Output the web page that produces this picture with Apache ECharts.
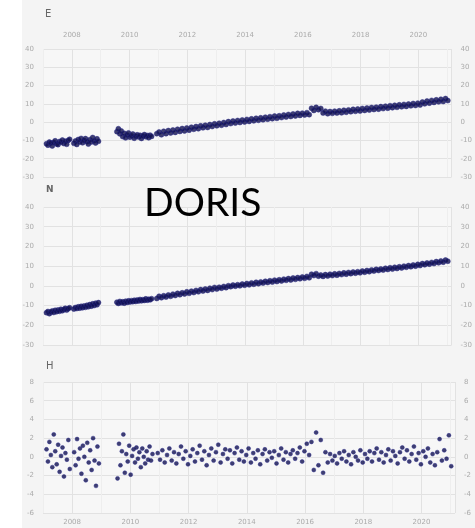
<!DOCTYPE html>
<html>
<head>
<meta charset="utf-8">
<script src="https://cdn.jsdelivr.net/npm/echarts@6/dist/echarts.min.js"></script>
<style>
  html, body { margin: 0; padding: 0; background: #ffffff; }
  #chart { width: 475px; height: 528px; }
</style>
</head>
<body>
<div id="chart"></div>
<script>
// DORIS station coordinate time series (mm), decimal-year epochs
const epochs = [
  2007.12, 2007.17, 2007.22, 2007.27, 2007.32, 2007.37, 2007.42, 2007.47, 2007.52, 2007.57,
  2007.62, 2007.67, 2007.72, 2007.77, 2007.82, 2007.87, 2007.92,
  2008.07, 2008.12, 2008.17, 2008.22, 2008.27, 2008.32, 2008.37, 2008.42, 2008.47,
  2008.52, 2008.57, 2008.62, 2008.67, 2008.72, 2008.77, 2008.82, 2008.87, 2008.92,
  2009.56, 2009.61, 2009.66, 2009.71, 2009.76, 2009.81, 2009.86, 2009.91, 2009.96,
  2010.01, 2010.06, 2010.11, 2010.16, 2010.21, 2010.26, 2010.31, 2010.36, 2010.41,
  2010.46, 2010.51, 2010.56, 2010.61, 2010.66, 2010.71, 2010.76,
  2010.94,
  2011.02, 2011.10, 2011.18, 2011.26, 2011.34, 2011.42, 2011.50, 2011.58, 2011.66, 2011.74, 2011.82, 2011.90, 2011.98,
  2012.06, 2012.14, 2012.22, 2012.30, 2012.38, 2012.46, 2012.54, 2012.62, 2012.70, 2012.78, 2012.86, 2012.94,
  2013.02, 2013.10, 2013.18, 2013.26, 2013.34, 2013.42, 2013.50, 2013.58, 2013.66, 2013.74, 2013.82, 2013.90, 2013.98,
  2014.06, 2014.14, 2014.22, 2014.30, 2014.38, 2014.46, 2014.54, 2014.62, 2014.70, 2014.78, 2014.86, 2014.94,
  2015.02, 2015.10, 2015.18, 2015.26, 2015.34, 2015.42, 2015.50, 2015.58, 2015.66, 2015.74, 2015.82, 2015.90, 2015.98,
  2016.06, 2016.14, 2016.22, 2016.30, 2016.38, 2016.46, 2016.54, 2016.62, 2016.70, 2016.78, 2016.86, 2016.94,
  2017.02, 2017.10, 2017.18, 2017.26, 2017.34, 2017.42, 2017.50, 2017.58, 2017.66, 2017.74, 2017.82, 2017.90, 2017.98,
  2018.06, 2018.14, 2018.22, 2018.30, 2018.38, 2018.46, 2018.54, 2018.62, 2018.70, 2018.78, 2018.86, 2018.94,
  2019.02, 2019.10, 2019.18, 2019.26, 2019.34, 2019.42, 2019.50, 2019.58, 2019.66, 2019.74, 2019.82, 2019.90, 2019.98,
  2020.06, 2020.14, 2020.22, 2020.30, 2020.38, 2020.46, 2020.54, 2020.62, 2020.70, 2020.78, 2020.86, 2020.94,
  2021.02
];

const east = [
  -11.8, -12.6, -10.9, -11.4, -13.0, -11.1, -10.2, -11.9, -12.3, -10.6,
  -11.0, -9.8, -11.7, -10.4, -12.1, -10.0, -9.4,
  -11.6, -10.3, -12.2, -9.5, -10.8, -8.9, -11.3, -10.1, -9.0,
  -10.7, -12.0, -9.6, -10.9, -8.4, -10.2, -11.4, -9.1, -10.5,
  -5.2, -3.6, -6.4, -4.8, -7.9, -6.1, -8.6, -7.0, -5.9,
  -8.2, -7.4, -6.5, -8.8, -7.7, -6.9, -8.1, -7.2, -8.9,
  -7.6, -6.8, -8.0, -7.3, -8.5, -7.1, -7.8,
  -6.3,
  -5.4, -6.9, -5.0, -6.3, -4.6, -5.9, -4.3, -5.6, -3.9, -5.1, -3.5, -4.8, -3.2,
  -4.4, -2.8, -3.9, -2.4, -3.6, -2.0, -3.1, -1.7, -2.9, -1.3, -2.4, -0.9,
  -2.0, -0.6, -1.7, -0.2, -1.3, 0.3, -0.8, 0.6, -0.5, 0.9, -0.2, 1.2, 0.1,
  1.5, 0.4, 1.8, 0.7, 2.1, 1.0, 2.4, 1.3, 2.7, 1.6, 3.0, 1.9,
  3.3, 2.1, 3.5, 2.5, 3.9, 2.8, 4.2, 3.1, 4.5, 3.4, 4.8, 3.7, 4.9,
  3.9, 5.2, 4.1, 7.6, 6.4, 8.1, 6.8, 7.5, 5.0, 6.0, 4.6, 5.8,
  4.8, 6.0, 5.0, 6.2, 5.1, 6.5, 5.4, 6.7, 5.7, 7.0, 5.9, 7.2, 6.1,
  7.5, 6.4, 7.7, 6.6, 8.0, 6.9, 8.2, 7.1, 8.5, 7.4, 8.7, 7.6,
  9.0, 7.9, 9.2, 8.1, 9.5, 8.4, 9.7, 8.6, 9.9, 8.9, 10.2, 9.1, 10.4,
  9.4, 11.0, 10.0, 11.5, 10.4, 11.9, 10.8, 12.2, 11.1, 12.5, 11.3, 12.9,
  11.8
];

const north = [
  -13.6, -13.0, -14.1, -13.2, -12.7, -13.5, -12.4, -13.1, -12.2, -12.9,
  -11.9, -12.6, -12.0, -11.4, -12.3, -11.6, -11.1,
  -11.8, -11.0, -11.5, -10.6, -11.3, -10.4, -11.1, -10.2, -10.9,
  -9.9, -10.6, -9.5, -10.3, -9.1, -10.0, -8.8, -9.6, -8.5,
  -8.3, -8.9, -7.9, -8.6, -8.1, -8.8, -7.8, -8.4, -7.6,
  -8.2, -7.5, -8.0, -7.3, -7.9, -7.2, -7.7, -6.9, -7.6,
  -7.0, -7.4, -6.6, -7.3, -6.8, -7.1, -6.5,
  -6.4,
  -5.3, -6.0, -5.0, -5.7, -4.6, -5.3, -4.2, -4.9, -3.8, -4.5, -3.5, -4.1, -3.0,
  -3.8, -2.7, -3.4, -2.3, -3.0, -1.9, -2.6, -1.6, -2.3, -1.2, -1.9, -0.8,
  -1.6, -0.7, -1.2, -0.3, -0.9, 0.1, -0.4, 0.4, -0.2, 0.6, 0.0, 0.9, 0.3,
  1.2, 0.5, 1.5, 0.8, 1.8, 1.1, 2.0, 1.4, 2.3, 1.7, 2.6, 1.9,
  2.9, 2.2, 3.1, 2.5, 3.4, 2.8, 3.7, 3.0, 4.0, 3.3, 4.2, 3.6, 4.5,
  3.8, 4.8, 4.1, 5.9, 5.2, 6.2, 4.9, 5.5, 4.8, 5.7, 5.0, 5.9,
  5.2, 6.1, 5.4, 6.3, 5.7, 6.6, 5.9, 6.8, 6.2, 7.0, 6.4, 7.2, 6.6,
  7.5, 6.9, 7.8, 7.2, 8.1, 7.5, 8.4, 7.8, 8.6, 8.0, 8.9, 8.3,
  9.2, 8.5, 9.4, 8.8, 9.7, 9.1, 10.0, 9.4, 10.3, 9.7, 10.6, 10.0, 10.9,
  10.3, 11.3, 10.7, 11.6, 11.0, 11.9, 11.3, 12.3, 11.7, 12.6, 12.0, 13.1,
  12.5
];

const up = [
  0.8, -0.5, 1.6, 0.2, -1.1, 2.4, 0.6, -0.8, 1.3, -1.6,
  0.1, 1.0, -2.1, 0.4, -0.3, 1.8, -1.3,
  0.5, -0.9, 1.9, -0.2, 0.9, -1.8, 1.2, 0.0, -2.5,
  1.5, -0.6, 0.7, -1.4, 2.0, -0.4, -3.1, 1.1, -0.7,
  -2.3, 1.4, -0.9, 0.6, 2.4, -1.7, 0.3, -0.5, 1.2,
  -1.9, 0.1, 0.8, -0.6, 1.0, -0.2, 0.5, -1.1, 0.9,
  0.0, -0.7, 0.6, -0.3, 1.1, -0.4, 0.3,
  0.4,
  -0.3, 0.7, -0.6, 0.2, 0.9, -0.4, 0.5, -0.7, 0.3, 1.1, -0.2, 0.6, -0.8,
  0.1, 0.8, -0.5, 0.4, 1.2, -0.3, 0.6, -0.9, 0.2, 0.9, -0.4, 0.5,
  1.3, -0.6, 0.3, 0.8, -0.2, 0.7, -0.7, 0.4, 1.0, -0.3, 0.6, -0.5, 0.2,
  0.9, -0.6, 0.4, -0.2, 0.7, -0.8, 0.3, 0.8, -0.4, 0.5, -0.1, 0.6,
  -0.7, 0.2, 0.9, -0.3, 0.5, -0.6, 0.3, 0.7, -0.2, 0.4, 1.0, -0.5, 0.6,
  1.4, 0.2, 1.6, -1.4, 2.6, -0.9, 1.8, -1.7, 0.5, -0.6, 0.3, -0.4,
  0.1, -0.7, 0.4, -0.2, 0.6, -0.5, 0.2, -0.8, 0.5, 0.0, -0.4, 0.7, -0.6,
  0.3, -0.2, 0.6, -0.5, 0.4, 0.9, -0.3, 0.5, -0.6, 0.2, 0.8, -0.4,
  0.6, 0.1, -0.7, 0.5, 1.0, -0.2, 0.7, -0.5, 0.3, 1.1, -0.3, 0.4, -0.8,
  0.6, 0.0, 0.9, -0.6, 0.3, -0.9, 0.5, 1.9, -0.4, 0.7, -0.2, 2.3,
  -1.0
];

// axis ranges for each component panel
const yearRange = { min: 2007, max: 2021.15, step: 1 };
const eastRange = { min: -30, max: 40, step: 10 };
const northRange = { min: -30, max: 40, step: 10 };
const upRange = { min: -6, max: 8, step: 2 };
const panelTitles = ['E', 'N', 'H'];
const stationName = 'DORIS';

const pair = (vals) => epochs.map((t, i) => [t, vals[i]]);

const tickFont = { color: '#ababab', fontSize: 7, fontFamily: 'DejaVu Sans' };
const gridLineMinor = '#eeeeee';
const gridLineMajor = '#e2e2e2';

function xAxisFor(gridIndex, labelPos) {
  return {
    type: 'value', gridIndex,
    min: yearRange.min, max: yearRange.max, interval: yearRange.step,
    position: labelPos || 'bottom',
    axisLine: { show: false }, axisTick: { show: false },
    axisLabel: {
      show: !!labelPos, margin: labelPos === 'top' ? 10 : 6, ...tickFont,
      formatter: v => (Math.round(v) % 2 === 0 ? String(Math.round(v)) : '')
    },
    splitLine: { show: true, lineStyle: { color: [gridLineMinor, gridLineMajor], width: 1 } }
  };
}
function yAxesFor(gridIndex, r) {
  const base = {
    type: 'value', gridIndex, min: r.min, max: r.max, interval: r.step,
    axisLine: { show: false }, axisTick: { show: false }
  };
  return [
    { ...base, position: 'left', axisLabel: { margin: 9, ...tickFont },
      splitLine: { show: true, lineStyle: { color: gridLineMajor } } },
    { ...base, position: 'right', axisLabel: { margin: 9, ...tickFont },
      splitLine: { show: false } }
  ];
}

const pointStyle = (size) => ({
  type: 'scatter', symbol: 'circle', symbolSize: size,
  itemStyle: { color: '#10104e', borderColor: '#25258a', borderWidth: 0.6 },
  silent: true, animation: false
});

const chart = echarts.init(document.getElementById('chart'), null, { renderer: 'canvas' });
chart.setOption({
  backgroundColor: '#f4f4f4',
  animation: false,
  grid: [
    { left: 43, right: 20, top: 49, height: 128, show: true, backgroundColor: '#f7f7f7', borderWidth: 0 },
    { left: 43, right: 20, top: 207, height: 138, show: true, backgroundColor: '#f7f7f7', borderWidth: 0 },
    { left: 43, right: 20, top: 382, height: 131, show: true, backgroundColor: '#f7f7f7', borderWidth: 0 }
  ],
  xAxis: [xAxisFor(0, 'top'), xAxisFor(1, null), xAxisFor(2, 'bottom')],
  yAxis: [...yAxesFor(0, eastRange), ...yAxesFor(1, northRange), ...yAxesFor(2, upRange)],
  series: [
    { ...pointStyle(5), name: 'E', xAxisIndex: 0, yAxisIndex: 0, data: pair(east) },
    { ...pointStyle(5), name: 'N', xAxisIndex: 1, yAxisIndex: 2, data: pair(north) },
    { ...pointStyle(4), name: 'H', xAxisIndex: 2, yAxisIndex: 4, data: pair(up) }
  ],
  graphic: [
    { type: 'rect', left: 0, top: 0, shape: { width: 22, height: 528 }, style: { fill: '#ffffff' }, z: -1 },
    { type: 'text', left: 45, top: 9, style: { text: panelTitles[0], fill: '#666', font: '10px DejaVu Sans' } },
    { type: 'text', left: 46, top: 185, style: { text: panelTitles[1], fill: '#666', font: 'bold 9px DejaVu Sans' } },
    { type: 'text', left: 46, top: 361, style: { text: panelTitles[2], fill: '#666', font: '10px DejaVu Sans' } },
    { type: 'text', left: 144, top: 184, style: { text: stationName, fill: '#000000', font: '39px Lato' }, z: 10 }
  ]
});
</script>
</body>
</html>
